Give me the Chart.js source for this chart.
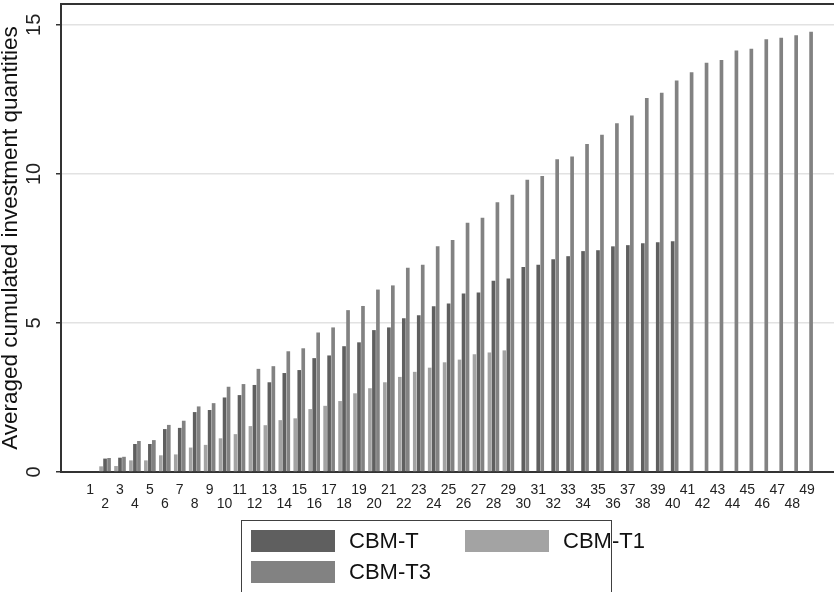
<!DOCTYPE html>
<html><head><meta charset="utf-8">
<script src="https://cdn.jsdelivr.net/npm/chart.js@4.4.1/dist/chart.umd.min.js"></script>
<style>
html,body{margin:0;padding:0;background:#fff;}
#wrap{position:relative;width:834px;height:592px;overflow:hidden;font-family:"Liberation Sans",Arial,sans-serif;}
#legend{position:absolute;left:241px;top:520px;width:371px;height:90px;border:1px solid #404040;box-sizing:border-box;background:#fff;}
.item{position:absolute;display:flex;align-items:center;font-size:22px;color:#111;line-height:22px;white-space:nowrap;}
.sw{width:84px;height:22px;margin-right:14px;box-sizing:border-box;}
</style></head><body>
<div id="wrap"><canvas id="c" width="834" height="592"></canvas><div id="legend"></div></div>
<script>
const categories = [1,2,3,4,5,6,7,8,9,10,11,12,13,14,15,16,17,18,19,20,21,22,23,24,25,
  26,27,28,29,30,31,32,33,34,35,36,37,38,39,40,41,42,43,44,45,46,47,48,49];

const seriesNames = ['CBM-T1', 'CBM-T', 'CBM-T3'];

const cbmT1 = [0,0.19,0.20,0.39,0.39,0.56,0.59,0.82,0.91,1.13,1.27,1.54,1.57,1.74,1.80,
  2.11,2.22,2.38,2.64,2.81,3.01,3.19,3.36,3.50,3.68,3.77,3.95,4.01,4.08];

const cbmT = [0,0.45,0.48,0.94,0.94,1.44,1.48,2.01,2.08,2.50,2.58,2.92,3.01,3.32,3.42,
  3.82,3.91,4.22,4.35,4.76,4.85,5.16,5.26,5.56,5.65,5.99,6.02,6.42,6.49,6.88,
  6.95,7.14,7.24,7.41,7.44,7.57,7.61,7.67,7.71,7.74];

const cbmT3 = [0,0.47,0.51,1.04,1.07,1.58,1.72,2.20,2.31,2.86,2.95,3.46,3.55,4.05,4.15,
  4.68,4.85,5.43,5.57,6.12,6.26,6.85,6.95,7.57,7.78,8.36,8.53,9.05,9.30,9.80,
  9.93,10.49,10.58,11.00,11.31,11.70,11.96,12.55,12.72,13.13,13.41,13.73,13.82,14.14,14.20,
  14.52,14.57,14.65,14.77];

const yTicks = [0, 5, 10, 15];
const yTitle = 'Averaged cumulated investment quantities';

const colors = ['#a3a3a3', '#5f5f5f', '#828282'];
const legendOrder = [1, 0, 2];
const legendPos = [[9, 9], [223, 9], [9, 40]];

const FONT = '"Liberation Sans", Arial, sans-serif';

const frameTop = {
  id: 'frameTop',
  afterDraw(chart) {
    const {ctx, chartArea: a} = chart;
    ctx.save();
    ctx.strokeStyle = '#333';
    ctx.lineWidth = 2;
    ctx.beginPath();
    ctx.moveTo(a.left, a.top);
    ctx.lineTo(a.right, a.top);
    ctx.stroke();
    ctx.restore();
  }
};

const chart = new Chart(document.getElementById('c'), {
  type: 'bar',
  data: {
    labels: categories,
    datasets: [
      {label: seriesNames[0], data: cbmT1, backgroundColor: colors[0]},
      {label: seriesNames[1], data: cbmT, backgroundColor: colors[1]},
      {label: seriesNames[2], data: cbmT3, backgroundColor: colors[2]}
    ]
  },
  options: {
    responsive: false,
    animation: false,
    devicePixelRatio: 1,
    layout: {padding: {top: 4, left: 0, right: 0, bottom: 0}},
    datasets: {bar: {categoryPercentage: 0.8, barPercentage: 0.92, borderWidth: 0}},
    plugins: {legend: {display: false}, tooltip: {enabled: false}},
    scales: {
      x: {
        type: 'linear',
        offset: false,
        min: -0.95,
        max: 50.8,
        grid: {display: false, drawTicks: false},
        border: {display: true, color: '#333', width: 2},
        afterFit(s) { s.height = 120; s.paddingLeft = 0; s.paddingRight = 0; },
        ticks: {
          stepSize: 1,
          autoSkip: false,
          includeBounds: false,
          maxRotation: 0,
          minRotation: 0,
          padding: 11,
          color: '#222',
          font: {family: FONT, size: 14, lineHeight: 1},
          callback(v) {
            if (!categories.includes(v)) return '';
            return v % 2 === 1 ? [String(v), ''] : ['', String(v)];
          }
        }
      },
      y: {
        min: 0,
        max: 15.7,
        afterFit(s) { s.width = 61; s.paddingTop = 0; s.paddingBottom = 0; },
        afterBuildTicks(s) { s.ticks = yTicks.map(v => ({value: v})); },
        grid: {color: '#e2e2e2', lineWidth: 1.5, drawTicks: true, tickLength: 5, tickColor: '#333', tickWidth: 1.5},
        border: {display: true, color: '#333', width: 2},
        ticks: {
          stepSize: 5,
          includeBounds: false,
          minRotation: 90,
          maxRotation: 90,
          crossAlign: 'center',
          padding: 10,
          color: '#222',
          font: {family: FONT, size: 20}
        },
        title: {
          display: true,
          text: yTitle,
          color: '#111',
          padding: 0,
          font: {family: FONT, size: 22.5, lineHeight: 1}
        }
      }
    }
  },
  plugins: [frameTop]
});

const legend = document.getElementById('legend');
legendOrder.forEach((di, k) => {
  const ds = chart.data.datasets[di];
  const it = document.createElement('div');
  it.className = 'item';
  it.style.left = legendPos[k][0] + 'px';
  it.style.top = legendPos[k][1] + 'px';
  const sw = document.createElement('span');
  sw.className = 'sw';
  sw.style.background = ds.backgroundColor;
  const tx = document.createElement('span');
  tx.textContent = ds.label;
  it.appendChild(sw);
  it.appendChild(tx);
  legend.appendChild(it);
});
</script>
</body></html>
